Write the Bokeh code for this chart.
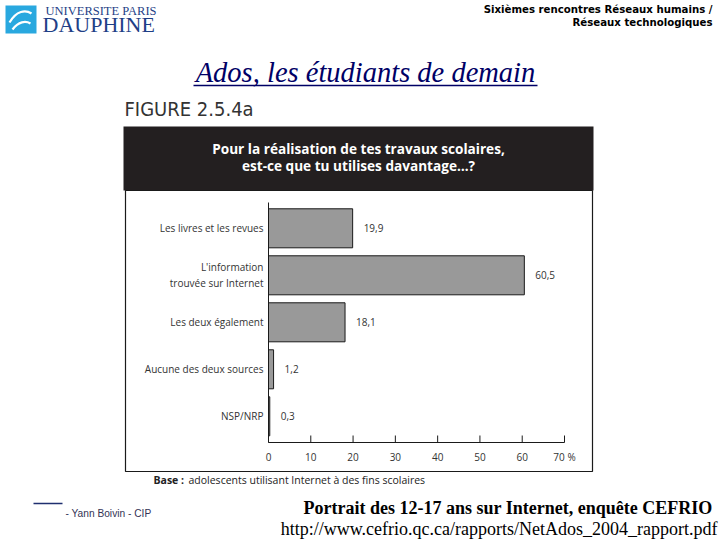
from bokeh.plotting import figure
from bokeh.models import Range1d, ColumnDataSource
from bokeh.core.properties import value
from bokeh.embed import file_html
from bokeh.resources import INLINE

# ---- data ----
categories = ["Les livres et les revues", "L'information\ntrouvée sur Internet",
              "Les deux également", "Aucune des deux sources", "NSP/NRP"]
percentages = [19.9, 60.5, 18.1, 1.2, 0.3]
x_ticks = [0, 10, 20, 30, 40, 50, 60, 70]
x_tick_labels = ["0", "10", "20", "30", "40", "50", "60", "70 %"]
value_labels = [f"{v:.1f}".replace(".", ",") for v in percentages]
positions = list(range(len(categories)))

# ---- layout constants (pixels from the page's top-left) ----
W, H = 720, 540
FL, FR = 268, 564          # x pixel of 0 % and 70 %
AX_TOP, AX_BOT = 202, 442  # vertical extent of the plotting area
C0, STEP = 227.8, 47.0     # centre of first category and spacing
PCT_MIN, PCT_MAX = x_ticks[0], x_ticks[-1]
k = (PCT_MAX - PCT_MIN) / (FR - FL)

p = figure(width=W, height=H, output_backend="svg", toolbar_location=None,
           x_range=Range1d(0, W), y_range=Range1d(H, 0),
           x_axis_type=None, y_axis_type=None, min_border=0, title=None)
p.outline_line_color = None
p.background_fill_color = "white"
p.border_fill_color = "white"
p.extra_x_ranges = {"pct": Range1d(PCT_MIN - FL * k, PCT_MIN + (W - FL) * k)}
p.extra_y_ranges = {"cat": Range1d((H - C0) / STEP, -C0 / STEP)}


def txt(x, y, s, font="Open Sans", size="10px", color="#000000", align="left",
        style="normal", baseline="middle"):
    p.text(x=[x], y=[y], text=[s], text_font=value(font), text_font_size=size,
           text_color=color, text_align=align, text_font_style=style,
           text_baseline=baseline)


# ---- slide decorations ----
# logo
p.quad(left=5, right=36, top=5, bottom=33, fill_color="#29a8df", line_color=None)
p.bezier(x0=[9, 12], y0=[22, 29], x1=[31, 30], y1=[13, 23],
         cx0=[16, 18], cy0=[10, 21], cx1=[25, 25], cy1=[9, 20],
         line_color="white", line_width=2.2)
txt(45, 10, "UNIVERSITE PARIS", font="Liberation Serif", size="12.5px", color="#1f3f87")
txt(42, 24, "DAUPHINE", font="Liberation Serif", size="22px", color="#1f3f87")

# header right
txt(712, 9, "Sixièmes rencontres Réseaux humains /", font="DejaVu Sans",
    size="10.2px", align="right", style="bold")
txt(712, 22, "Réseaux technologiques", font="DejaVu Sans",
    size="10.2px", align="right", style="bold")

# slide title
txt(365, 72, "Ados, les étudiants de demain", font="Liberation Serif", size="28.5px",
    color="#000066", align="center", style="italic")
p.segment(x0=[193], y0=[85], x1=[537], y1=[85], line_color="#000066", line_width=1.5)

# figure caption and dark header
txt(124, 108, "FIGURE 2.5.4a", font="DejaVu Sans Condensed, Roboto", size="20px",
    color="#333333")
p.quad(left=123, right=593, top=126, bottom=190, fill_color="#231f20", line_color=None)
txt(358, 148, "Pour la réalisation de tes travaux scolaires,", size="13.6px",
    color="white", align="center", style="bold")
txt(358, 165, "est-ce que tu utilises davantage…?", size="13.6px",
    color="white", align="center", style="bold")

# chart outline
p.quad(left=125, right=592, top=190, bottom=471, fill_color=None,
       line_color="#1a1a1a", line_width=1.2)

# base note
txt(153, 479, "Base :", size="10.5px", color="#222222", style="bold")
txt(188, 479, "adolescents utilisant Internet à des fins scolaires", size="10.5px",
    color="#222222")

# footer
p.segment(x0=[33], y0=[503], x1=[62], y1=[503], line_color="#1f2f6f", line_width=1.5)
txt(65, 513, "- Yann Boivin - CIP", font="Liberation Sans", size="10.2px",
    color="#333355")
txt(712, 507, "Portrait des 12-17 ans sur Internet, enquête CEFRIO",
    font="Liberation Serif", size="18px", align="right", style="bold")
txt(717, 528, "http://www.cefrio.qc.ca/rapports/NetAdos_2004_rapport.pdf",
    font="Liberation Serif", size="18px", align="right")

# ---- bar chart ----
src = ColumnDataSource(dict(pos=positions, val=percentages, lab=value_labels,
                            cat=categories, zero=[0] * len(categories)))
p.hbar(y="pos", left=0, right="val", height=0.83, source=src,
       fill_color="#999999", line_color="#1a1a1a", line_width=1,
       x_range_name="pct", y_range_name="cat")
p.text(x="val", y="pos", text="lab", source=src, x_offset=11,
       text_font=value("Open Sans"), text_font_size="10px", text_color="#333333",
       text_baseline="middle", text_align="left",
       x_range_name="pct", y_range_name="cat")
# category labels (vertical axis)
p.text(x="zero", y="pos", text="cat", source=src, x_offset=-5,
       text_font=value("Open Sans"), text_font_size="10px", text_color="#333333",
       text_baseline="middle", text_align="right", text_line_height=1.15,
       x_range_name="pct", y_range_name="cat")
# axis lines
p.segment(x0=[PCT_MIN], y0=[AX_TOP], x1=[PCT_MIN], y1=[AX_BOT],
          line_color="#1a1a1a", line_width=1, x_range_name="pct")
p.segment(x0=[PCT_MIN], y0=[AX_BOT], x1=[PCT_MAX], y1=[AX_BOT],
          line_color="#1a1a1a", line_width=1, x_range_name="pct")
# ticks and tick labels (horizontal axis)
tick_src = ColumnDataSource(dict(t=x_ticks, lab=x_tick_labels,
                                 y0=[AX_BOT] * len(x_ticks),
                                 y1=[AX_BOT - 7] * len(x_ticks),
                                 yl=[AX_BOT + 14] * len(x_ticks)))
p.segment(x0="t", y0="y0", x1="t", y1="y1", source=tick_src,
          line_color="#1a1a1a", line_width=1, x_range_name="pct")
p.text(x="t", y="yl", text="lab", source=tick_src,
       text_font=value("Open Sans"), text_font_size="10px", text_color="#333333",
       text_baseline="middle", text_align="center", x_range_name="pct")

open("out.html", "w").write(file_html(p, INLINE))
